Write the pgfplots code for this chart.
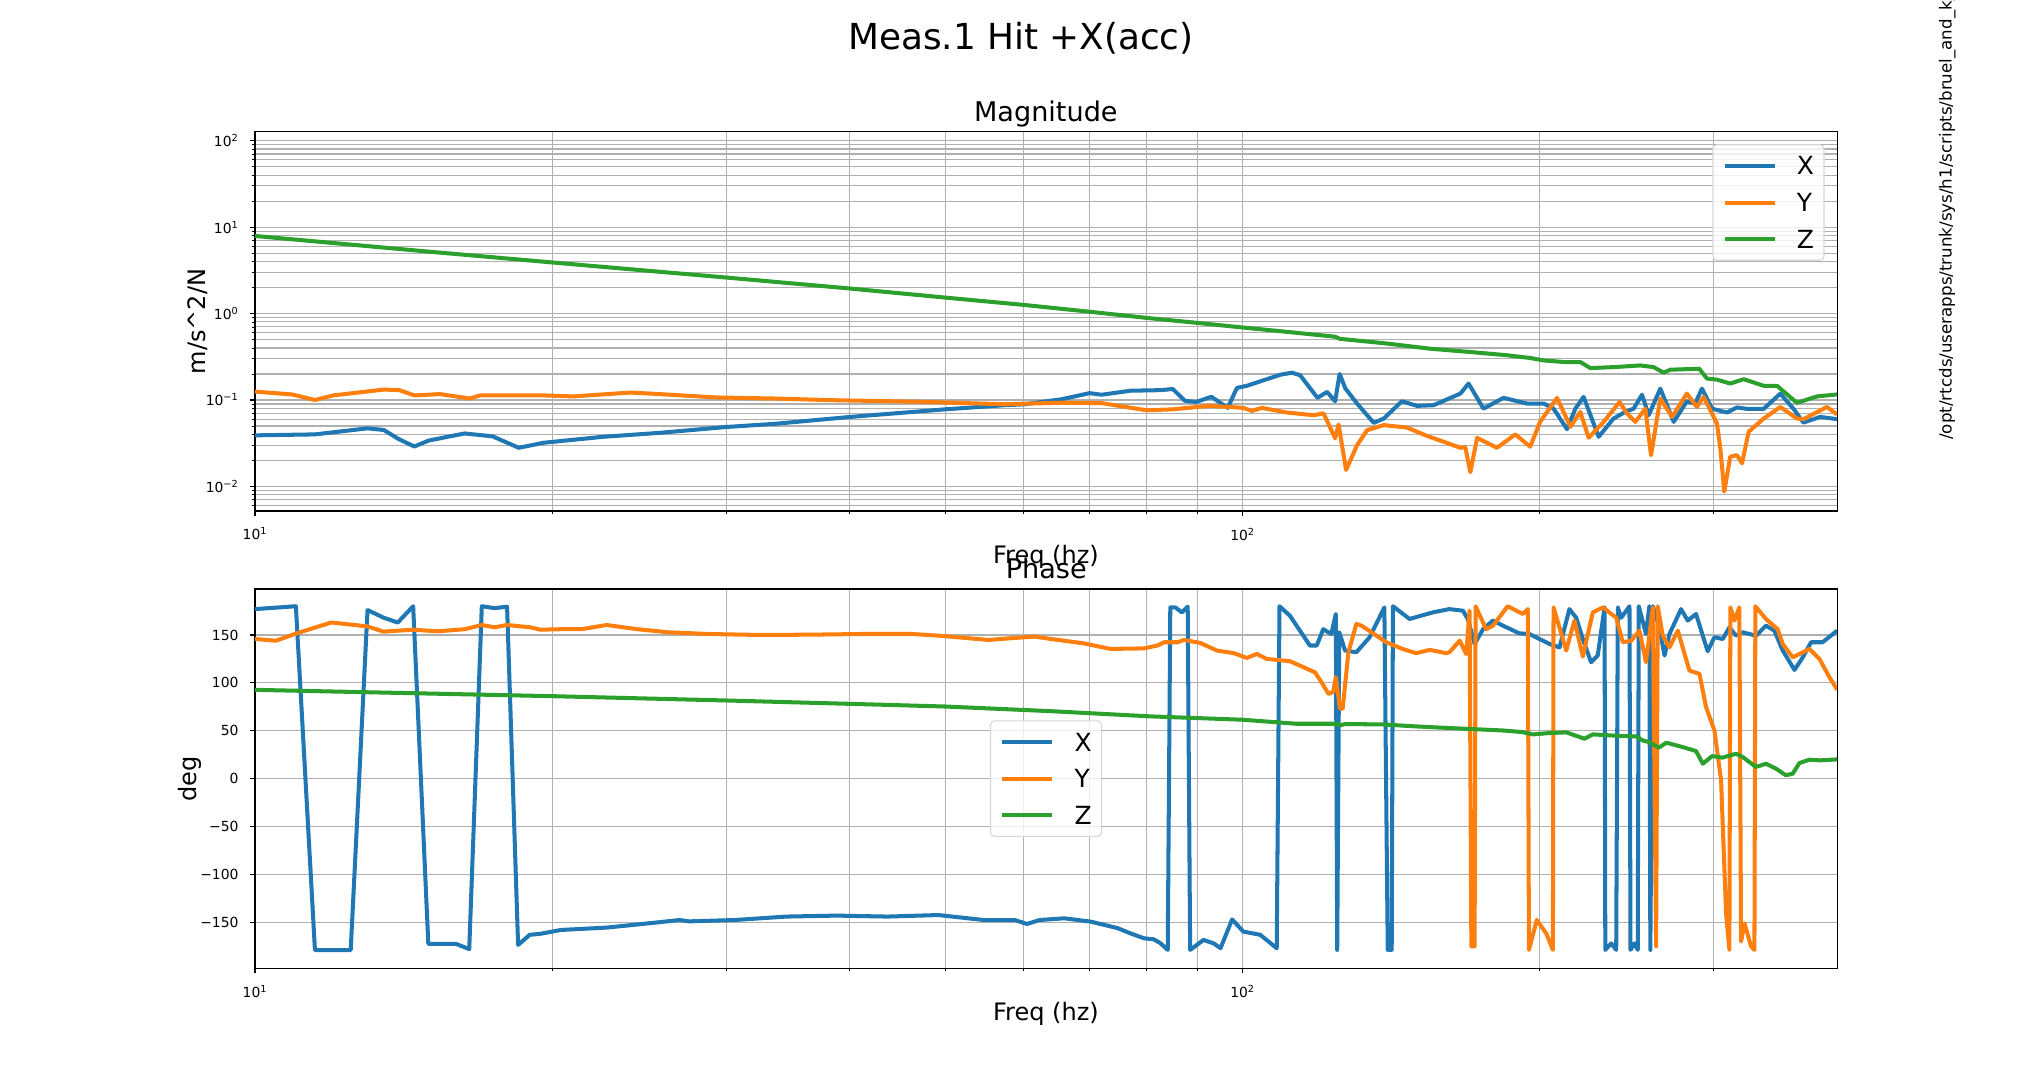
\documentclass[border=0pt]{standalone}
\usepackage{fontspec}
\setmainfont{DejaVu Sans}
\usepackage{pgfplots}
\pgfplotsset{compat=1.18}
\definecolor{tabblue}{HTML}{1F77B4}
\definecolor{taborange}{HTML}{FF7F0E}
\definecolor{tabgreen}{HTML}{2CA02C}
\definecolor{gridgray}{HTML}{B0B0B0}
\definecolor{legframe}{HTML}{D6D6D6}
\begin{document}
\begin{tikzpicture}
\useasboundingbox (0,0) rectangle (1469.52pt,783.36pt);
% ---------------- Magnitude ----------------
\begin{axis}[at={(183.6pt,415.44pt)}, anchor=south west,
  scale only axis, width=1139.04pt, height=273.1pt,
  xmode=log, xmin=10, xmax=400,
  xtick={10,100}, xticklabels={10\textsuperscript{1},10\textsuperscript{2}},
  minor xtick={20,30,40,50,60,70,80,90,200,300},
  tick align=outside, tick pos=left,
  major tick length=3.5pt, minor tick length=2pt,
  major tick style={black, line width=0.8pt},
  minor tick style={black, line width=0.6pt},
  axis line style={line width=0.8pt},
  ticklabel style={font=\fontsize{10}{12}\selectfont},
  xticklabel style={inner sep=0pt, anchor=north, yshift=-8.4pt},
  yticklabel style={inner sep=0pt, anchor=east, xshift=-8.2pt},
  major grid style={gridgray, line width=0.8pt},
  minor grid style={gridgray, line width=0.8pt},
  legend cell align=left,
  legend style={draw=legframe, line width=0.8pt, fill=white, fill opacity=0.8, text opacity=1, draw opacity=1,
    rounded corners=3pt, font=\fontsize{18}{21.6}\selectfont,
    inner xsep=7.2pt, inner ysep=8.65pt, row sep=13.3pt, column sep=14.4pt,
    nodes={inner sep=0pt, text height=13.1pt, text depth=0pt},
    at={(rel axis cs:1,1)}, anchor=north east, xshift=-9pt, yshift=-9pt},
  legend image code/.code={\draw[#1, line cap=butt] (0pt,0pt) -- (36pt,0pt);},
  ymode=log, ymin=0.0052, ymax=127,
  ytick={0.01,0.1,1,10,100},
  yticklabels={10\textsuperscript{−2},10\textsuperscript{−1},10\textsuperscript{0},10\textsuperscript{1},10\textsuperscript{2}},
  minor ytick={0.006,0.007,0.008,0.009,0.02,0.03,0.04,0.05,0.06,0.07,0.08,0.09,0.2,0.3,0.4,0.5,0.6,0.7,0.8,0.9,2,3,4,5,6,7,8,9,20,30,40,50,60,70,80,90},
  grid=both,
]
\addplot[line width=2.9pt, line join=round, tabblue] coordinates {
(10,0.039) (11.5,0.040) (13.0,0.047) (13.5,0.045) (14.0,0.035) (14.5,0.029) (15.0,0.034) (16.3,0.041) (17.4,0.038) (18.5,0.028) (19.6,0.032) (22.5,0.0375) (25.7,0.0417) (30,0.0487) (33.6,0.053) (40,0.0636) (50,0.078) (57.4,0.087) (60,0.089) (65.6,0.102) (70,0.12) (72,0.115) (77,0.128) (82.6,0.13) (85,0.134) (87.4,0.098) (89.8,0.095) (93,0.109) (96.6,0.081) (98.7,0.138) (101,0.146) (105,0.169) (109.2,0.196) (112.2,0.207) (114.4,0.193) (117.1,0.136) (119.1,0.106) (121.8,0.124) (124.1,0.0966) (125.4,0.2) (127.1,0.136) (130.6,0.091) (135.8,0.0544) (139,0.061) (145,0.0966) (150.2,0.0855) (156.1,0.087) (166.2,0.1185) (169.4,0.155) (175.4,0.0794) (183.8,0.106) (194.1,0.091) (201.8,0.091) (206.5,0.0794) (213.1,0.0459) (217.3,0.0794) (221.5,0.1086) (229.4,0.0375) (237.5,0.061) (244.1,0.0729) (248.9,0.0794) (253.8,0.115) (257.8,0.0667) (264.9,0.1355) (273.3,0.0558) (281.8,0.0966) (287.3,0.091) (291.9,0.1355) (298.8,0.0794) (309.4,0.0716) (316.7,0.082) (324.2,0.079) (337.1,0.079) (350.4,0.1185) (361.4,0.079) (369.9,0.0548) (384.6,0.0638) (400,0.06)
};
\addlegendentry{X}
\addplot[line width=2.9pt, line join=round, taborange] coordinates {
(10,0.125) (10.9,0.116) (11.5,0.100) (12.0,0.113) (13.5,0.132) (14.0,0.130) (14.5,0.113) (15.4,0.117) (16.5,0.104) (16.9,0.113) (19.6,0.113) (21,0.110) (24,0.122) (25.7,0.117) (29.3,0.107) (33.6,0.104) (38.4,0.0995) (46.8,0.0955) (57.4,0.0893) (65.6,0.093) (72,0.092) (80,0.076) (85,0.078) (92.4,0.0855) (97.2,0.083) (100.2,0.081) (102.2,0.0748) (104.6,0.081) (110.9,0.0716) (118,0.0667) (120.8,0.070) (124.1,0.0359) (125.1,0.052) (127.3,0.0155) (130.6,0.030) (133.7,0.0447) (139,0.0512) (146.7,0.048) (153.7,0.0385) (159.8,0.0329) (166.2,0.028) (168.1,0.0285) (170.1,0.0146) (172.8,0.0365) (181,0.028) (188.9,0.040) (195.6,0.0288) (200.1,0.0558) (208.2,0.1057) (214.8,0.049) (219.8,0.0729) (224.1,0.0366) (232.1,0.0558) (240.9,0.095) (245.1,0.0697) (249.9,0.0558) (255.8,0.0794) (259.2,0.023) (264.9,0.1038) (272.2,0.0638) (281.8,0.1185) (288.5,0.083) (293,0.1086) (302.3,0.0533) (304.7,0.0275) (307.5,0.0087) (311.8,0.0221) (316.7,0.023) (320.5,0.0185) (325.5,0.0429) (337.1,0.061) (350.4,0.083) (364.3,0.061) (369.9,0.06) (390.7,0.083) (400,0.068)
};
\addlegendentry{Y}
\addplot[line width=2.9pt, line join=round, tabgreen] coordinates {
(10,7.9) (15,5.2) (20,3.9) (30,2.61) (40,1.95) (50,1.53) (60,1.26) (70,1.05) (80,0.89) (90,0.78) (100,0.69) (110,0.62) (124,0.54) (125.5,0.51) (140,0.45) (154.9,0.392) (170.1,0.359) (185,0.33) (195.6,0.306) (201.8,0.287) (211.3,0.275) (219.8,0.275) (225,0.234) (237.5,0.24) (252.7,0.251) (260.8,0.24) (266.9,0.207) (271.1,0.224) (290,0.23) (295.3,0.177) (302.3,0.172) (311.8,0.155) (321.7,0.174) (337.1,0.146) (347.7,0.146) (364.3,0.0927) (381.7,0.110) (400,0.116)
};
\addlegendentry{Z}
\end{axis}
% ---------------- Phase ----------------
\begin{axis}[at={(183.6pt,86.18pt)}, anchor=south west,
  scale only axis, width=1139.04pt, height=273.1pt,
  xmode=log, xmin=10, xmax=400,
  xtick={10,100}, xticklabels={10\textsuperscript{1},10\textsuperscript{2}},
  minor xtick={20,30,40,50,60,70,80,90,200,300},
  tick align=outside, tick pos=left,
  major tick length=3.5pt, minor tick length=2pt,
  major tick style={black, line width=0.8pt},
  minor tick style={black, line width=0.6pt},
  axis line style={line width=0.8pt},
  ticklabel style={font=\fontsize{10}{12}\selectfont},
  xticklabel style={inner sep=0pt, anchor=north, yshift=-8.4pt},
  yticklabel style={inner sep=0pt, anchor=east, xshift=-8.2pt},
  major grid style={gridgray, line width=0.8pt},
  minor grid style={gridgray, line width=0.8pt},
  legend cell align=left,
  legend style={draw=legframe, line width=0.8pt, fill=white, fill opacity=0.8, text opacity=1, draw opacity=1,
    rounded corners=3pt, font=\fontsize{18}{21.6}\selectfont,
    inner xsep=7.2pt, inner ysep=8.65pt, row sep=13.3pt, column sep=14.4pt,
    nodes={inner sep=0pt, text height=13.1pt, text depth=0pt},
    at={(rel axis cs:0.5,0.5)}, anchor=center},
  legend image code/.code={\draw[#1, line cap=butt] (0pt,0pt) -- (36pt,0pt);},
  ymin=-198, ymax=198,
  ytick={-150,-100,-50,0,50,100,150},
  yticklabels={−150,−100,−50,0,50,100,150},
  xmajorgrids, xminorgrids, ymajorgrids,
]
\addplot[line width=2.9pt, line join=round, tabblue] coordinates {
(10,177) (11.0,180) (11.5,-179) (12.5,-179) (13.0,176) (13.5,168) (13.95,163) (14.46,180) (14.98,-172.6) (15.99,-172.6) (16.48,-178) (16.97,180) (17.48,178) (18.0,179.5) (18.47,-173.6) (18.98,-163) (19.45,-162) (20.4,-158) (22.7,-155.5) (24.1,-152.8) (25.6,-150) (26.9,-147.6) (27.5,-149) (30.6,-147.6) (34.5,-144) (38.8,-143) (43.7,-144) (49.2,-142.4) (54.7,-147.6) (58.8,-147.6) (60.5,-151.7) (62.3,-147.6) (66,-145.8) (70.2,-149.3) (74.7,-156) (77,-161.5) (79.5,-166.7) (81.3,-167.7) (82.6,-171.9) (84,-178.8) (84.5,178.8) (85.5,178.8) (86.8,173.6) (88,179.5) (88.5,-178.8) (91.3,-168.4) (93.5,-172) (95,-177) (97.6,-147) (100.2,-159.7) (104.2,-163) (108.3,-177) (109,180) (111.7,170) (117,139) (118.9,139) (120.7,156) (123,151) (124.3,171.9) (124.7,-178.8) (125.3,152.8) (127,133.7) (130.4,132) (134.5,147.6) (139.2,178.8) (140.3,-178.8) (141.6,-178.8) (142,180) (147.6,166.7) (155.9,173.6) (162,177) (167.2,175.3) (169.1,166.7) (171.8,140.6) (175.2,156) (179.3,165) (183.5,159.7) (190.7,151.7) (195.2,151) (204.6,140.6) (209.4,137) (214.3,177) (217.7,168) (221.1,145.8) (225.4,121.5) (228.9,128.5) (232.6,178.8) (233,-178.8) (236.2,-172) (239.0,-178.8) (239.9,178.8) (241.8,168) (246.5,180) (247.1,-178.8) (249.4,-172) (251.3,-178.8) (251.9,180) (256.2,151) (258.2,180) (258.8,-178.8) (260.3,180) (264.3,158) (267.5,128.5) (270.6,151) (278.0,177) (282.4,165) (287.9,171.9) (295.8,133) (300.5,147.6) (306.4,145.8) (311.2,158) (316.0,149.3) (321.0,152.8) (326.0,151) (331.1,149.3) (338.9,159.7) (345.6,154.5) (352.4,133.7) (362.2,113.5) (369.3,126.7) (376.5,142.4) (386.8,142.4) (400,154.5)
};
\addlegendentry{X}
\addplot[line width=2.9pt, line join=round, taborange] coordinates {
(10,145.8) (10.5,144) (11.1,152.8) (11.95,163) (12.99,159) (13.49,153.5) (14.46,155.5) (15.3,153.8) (16.3,156) (16.97,160.4) (17.48,158) (18.0,160.4) (19,158) (19.45,155.5) (20.4,156) (21.4,156) (22.7,160.4) (24.4,156) (26.2,152.8) (28.8,151) (32.4,150) (36.5,150.3) (41.1,151) (46.3,151) (49.2,149.3) (55.3,144.8) (58.8,146.9) (61.6,148.3) (64,145.8) (69,141.3) (73.5,135.4) (79.5,136) (82,139) (83.3,142.4) (86,142.4) (87.2,144.8) (90.6,141.7) (94.2,133.7) (98,131) (101,126) (103.4,130.2) (105.8,125) (111.7,122.6) (114.3,118) (118.4,111) (120.2,100.7) (122.2,88.5) (123.5,90.3) (124.3,106) (125.5,73) (126.3,73) (128,132) (130.4,161.5) (132,159.7) (139.8,142.4) (145.2,135.4) (149.9,131) (154.7,134.4) (160.8,131) (162,132) (165.9,144) (168.5,130) (169.8,175.3) (170.5,-175) (171.8,-175) (172.2,180) (176.5,156) (179.3,159.7) (185.6,180) (192.2,171.9) (194.5,177) (195.0,-178.8) (198.6,-147.6) (203.0,-161.5) (206.2,-178.8) (206.5,178.8) (212.7,133.7) (216.8,165) (221.1,127.4) (226.3,173.6) (231.7,178.8) (239.0,168) (242.7,142.4) (247.5,144) (252.3,154.5) (256.2,121.5) (260.3,178.8) (262.3,-175) (263.3,180) (266.4,149.3) (270.6,137) (275.9,154.5) (283.5,112.8) (290.2,109.4) (294.7,74.7) (300.5,50.3) (305.2,-1.7) (308.8,-140.6) (311.2,-178.8) (311.9,178.8) (314.8,165) (318.5,178.8) (319.8,-170) (322.3,-151) (327.3,-175) (329.9,-178.8) (330.6,180) (338.9,166.7) (348.3,156) (352.4,140.6) (360.7,126.7) (366.4,130.2) (375.0,135.4) (383.9,125) (392.9,106) (400,93)
};
\addlegendentry{Y}
\addplot[line width=2.9pt, line join=round, tabgreen] coordinates {
(10,92.7) (20,86.1) (30,81.6) (40,78.1) (50,75.3) (63.8,70.5) (80.7,65) (100,61.5) (113.4,57.3) (124.6,57.3) (125.5,55.6) (127,57) (138.7,56.6) (150,54.5) (171,51.7) (183.5,50.3) (192,48.6) (196.8,46.2) (204.6,47.6) (212.7,48.3) (222,41.7) (226.3,46.2) (242.7,44.4) (250.6,44.1) (254,40) (258,38.2) (264,32.3) (268.6,37.5) (279,33) (287.9,28.8) (292.5,15.6) (299,23.6) (306,21.9) (316,26) (321,22.6) (331,12.2) (339,15.6) (347,10.4) (355,3.5) (360.7,5.2) (366.4,16.3) (375,19.8) (383.9,19.1) (400,20.1)
};
\addlegendentry{Z}
\end{axis}
% ---------------- Texts ----------------
\node[inner sep=0pt, anchor=base, font=\fontsize{25.8}{30}\selectfont] at (735pt,747.9pt) {Meas.1 Hit +X(acc)};
\node[inner sep=0pt, anchor=base, font=\fontsize{19.5}{23}\selectfont] at (753pt,695.7pt) {Magnitude};
\node[inner sep=0pt, anchor=base, font=\fontsize{17.3}{20}\selectfont] at (753.1pt,377.8pt) {Freq (hz)};
\node[inner sep=0pt, anchor=base, font=\fontsize{19.5}{23}\selectfont] at (753.3pt,367pt) {Phase};
\node[inner sep=0pt, anchor=base, font=\fontsize{17.3}{20}\selectfont] at (753.1pt,48.5pt) {Freq (hz)};
\node[inner sep=0pt, anchor=base, rotate=90, font=\fontsize{17.3}{20}\selectfont] at (147.6pt,551.9pt) {m/s\textasciicircum 2/N};
\node[inner sep=0pt, anchor=base, rotate=90, font=\fontsize{17.3}{20}\selectfont] at (141.8pt,222.7pt) {deg};
\node[inner sep=0pt, anchor=base west, rotate=90, overlay, font=\fontsize{12}{14}\selectfont] at (1405.2pt,466.6pt) {/opt/rtcds/userapps/trunk/sys/h1/scripts/bruel\_and\_kjaer};
\end{tikzpicture}
\end{document}
